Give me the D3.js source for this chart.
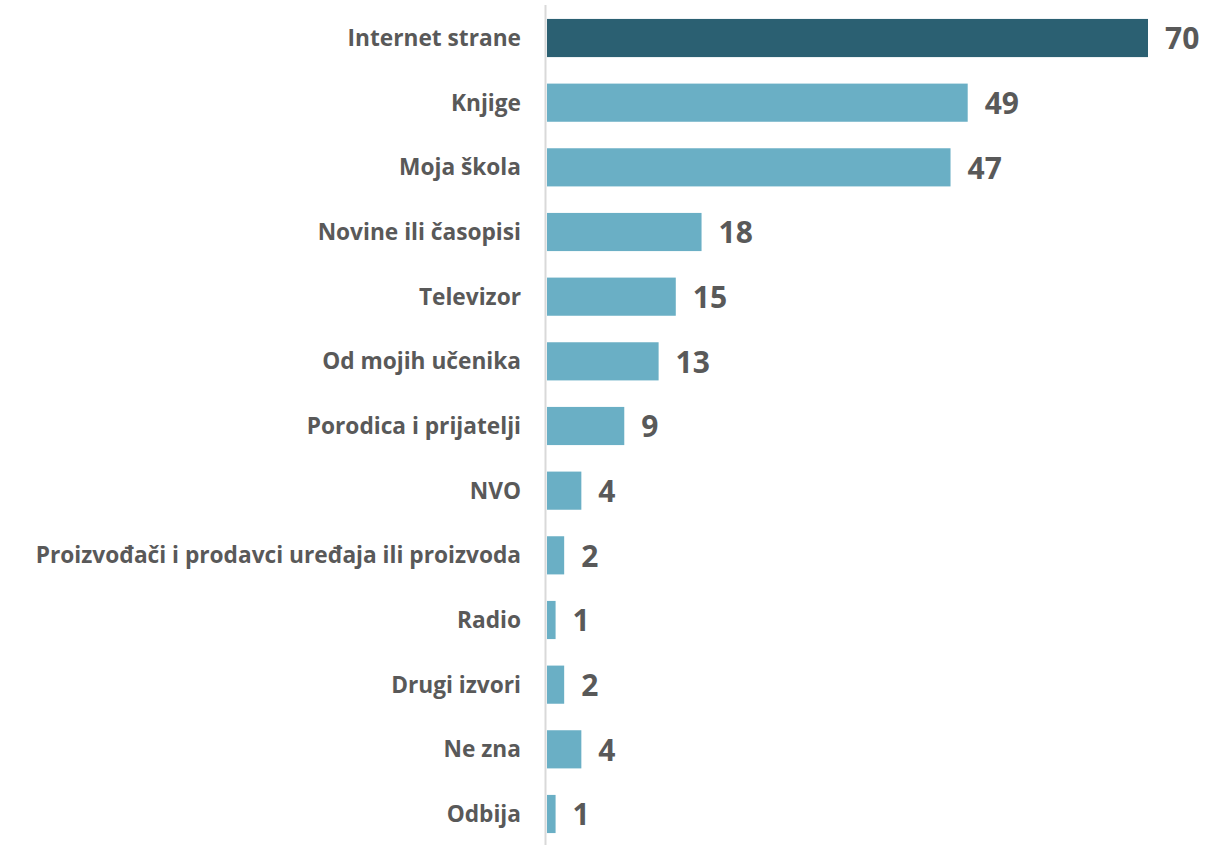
<!DOCTYPE html>
<html>
<head>
<meta charset="utf-8">
<script src="https://cdn.jsdelivr.net/npm/d3@7"></script>
<style>
  body { margin: 0; background: #fff; }
  svg { display: block; font-family: "Open Sans", "Noto Sans", sans-serif; }
  .cat { font-size: 22.7px; font-weight: 700; fill: #595959; }
  .val { font-size: 30px; font-weight: 700; fill: #595959; }
</style>
</head>
<body>
<svg id="chart" width="1225" height="845"></svg>
<script>
// categories and percentages
const categories = [
  'Internet strane', 'Knjige', 'Moja škola', 'Novine ili časopisi', 'Televizor',
  'Od mojih učenika', 'Porodica i prijatelji', 'NVO',
  'Proizvođači i prodavci uređaja ili proizvoda', 'Radio', 'Drugi izvori',
  'Ne zna', 'Odbija'
];
const values = [70, 49, 47, 18, 15, 13, 9, 4, 2, 1, 2, 4, 1];

const svg = d3.select('#chart');
const left = 547;

const x = d3.scaleLinear().domain([0, 70]).range([left, 1148]);
const y = d3.scaleBand().domain(categories).range([6, 846]).paddingInner(0.41).paddingOuter(0.2);

// vertical axis line
svg.append('line')
  .attr('x1', left - 1.5).attr('x2', left - 1.5)
  .attr('y1', 5).attr('y2', 845)
  .attr('stroke', '#d9d9d9').attr('stroke-width', 2);

const rows = svg.selectAll('.row')
  .data(categories.map((c, i) => ({cat: c, v: values[i], i})))
  .join('g').attr('class', 'row');

rows.append('rect')
  .attr('x', x(0))
  .attr('y', d => y(d.cat))
  .attr('width', d => x(d.v) - x(0))
  .attr('height', y.bandwidth())
  .attr('fill', d => d.i === 0 ? '#2b6072' : '#6aafc5');

rows.append('text')
  .attr('class', 'cat')
  .attr('x', 521)
  .attr('y', d => y(d.cat) + y.bandwidth() / 2)
  .attr('dy', '0.35em')
  .attr('text-anchor', 'end')
  .text(d => d.cat);

rows.append('text')
  .attr('class', 'val')
  .attr('x', d => x(d.v) + 17)
  .attr('y', d => y(d.cat) + y.bandwidth() / 2)
  .attr('dy', '0.38em')
  .text(d => d.v);
</script>
</body>
</html>
